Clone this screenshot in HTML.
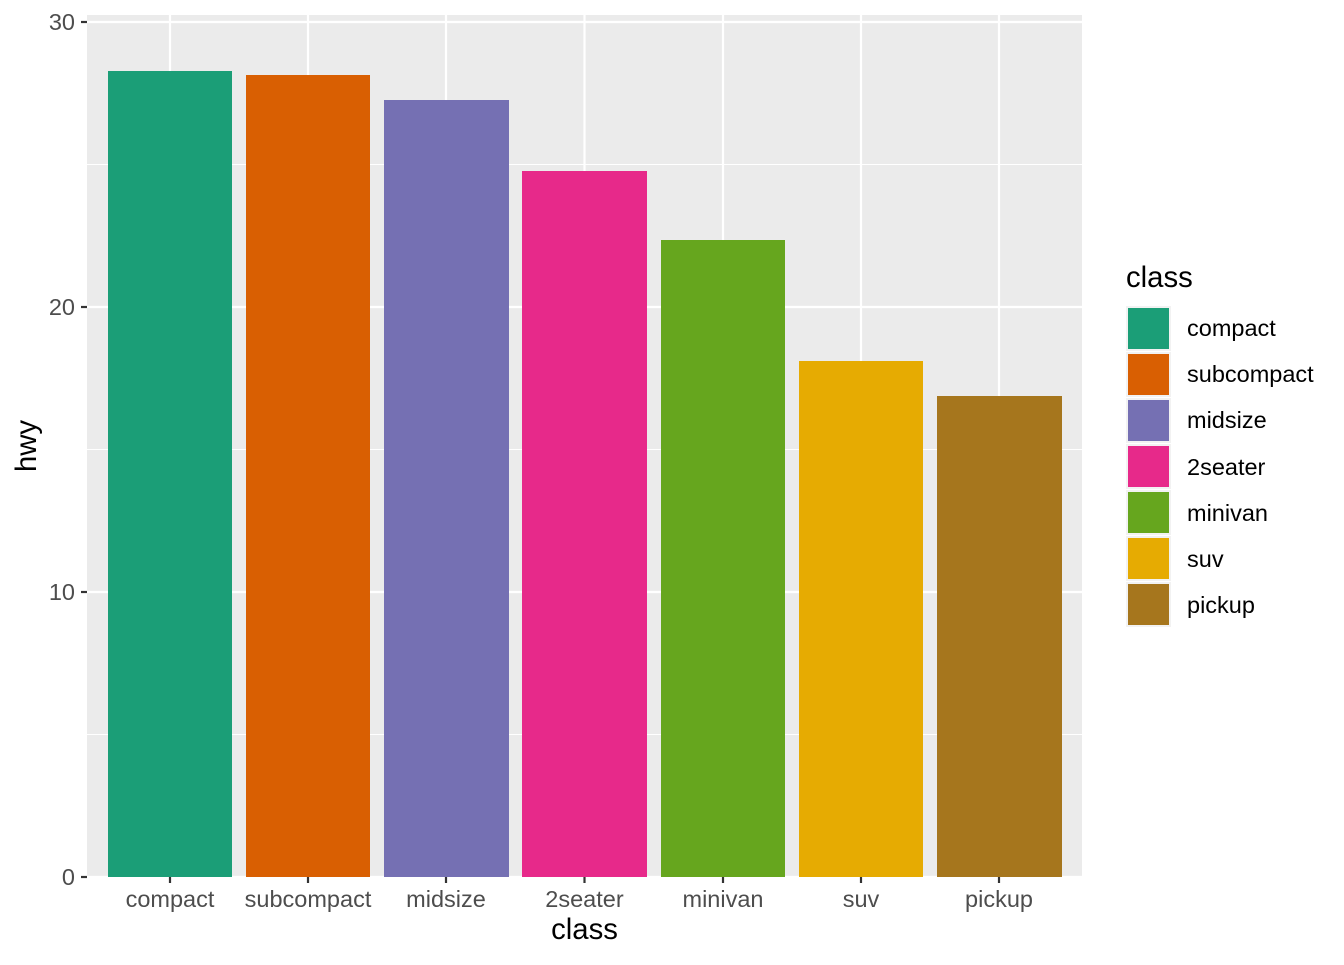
<!DOCTYPE html>
<html><head><style>body{margin:0;background:#fff}</style></head><body>
<svg width="1344" height="960" xmlns="http://www.w3.org/2000/svg" font-family="Liberation Sans, sans-serif">
<rect x="87" y="15" width="995" height="862" fill="#EBEBEB"/>
<g stroke="#fff" stroke-width="1.1">
<line x1="87" x2="1082" y1="734.5" y2="734.5"/><line x1="87" x2="1082" y1="449.5" y2="449.5"/><line x1="87" x2="1082" y1="164.5" y2="164.5"/>
</g>
<g stroke="#fff" stroke-width="2.2">
<line x1="87" x2="1082" y1="877" y2="877"/><line x1="87" x2="1082" y1="592" y2="592"/><line x1="87" x2="1082" y1="307" y2="307"/><line x1="87" x2="1082" y1="22" y2="22"/>
<line x1="170" x2="170" y1="15" y2="877"/><line x1="308" x2="308" y1="15" y2="877"/><line x1="446" x2="446" y1="15" y2="877"/><line x1="584.5" x2="584.5" y1="15" y2="877"/><line x1="723" x2="723" y1="15" y2="877"/><line x1="861" x2="861" y1="15" y2="877"/><line x1="999" x2="999" y1="15" y2="877"/>
</g>
<rect x="108" y="71" width="124" height="806" fill="#1B9E77"/>
<rect x="246" y="75" width="124" height="802" fill="#D95F02"/>
<rect x="384" y="100" width="125" height="777" fill="#7570B3"/>
<rect x="522" y="171" width="125" height="706" fill="#E7298A"/>
<rect x="661" y="240" width="124" height="637" fill="#66A61E"/>
<rect x="799" y="361" width="124" height="516" fill="#E6AB02"/>
<rect x="937" y="396" width="125" height="481" fill="#A6761D"/>
<g stroke="#333" stroke-width="2.2">
<line x1="81" x2="87" y1="877" y2="877"/><line x1="81" x2="87" y1="592" y2="592"/><line x1="81" x2="87" y1="307" y2="307"/><line x1="81" x2="87" y1="22" y2="22"/>
<line x1="170" x2="170" y1="877" y2="883"/><line x1="308" x2="308" y1="877" y2="883"/><line x1="446" x2="446" y1="877" y2="883"/><line x1="584.5" x2="584.5" y1="877" y2="883"/><line x1="723" x2="723" y1="877" y2="883"/><line x1="861" x2="861" y1="877" y2="883"/><line x1="999" x2="999" y1="877" y2="883"/>
</g>
<g fill="#4D4D4D" font-size="23.5" text-anchor="end">
<text x="75" y="885">0</text><text x="75" y="600">10</text><text x="75" y="315">20</text><text x="75" y="30">30</text>
</g>
<g fill="#4D4D4D" font-size="23.5" text-anchor="middle">
<text x="170" y="907">compact</text><text x="308" y="907">subcompact</text><text x="446" y="907">midsize</text><text x="584.5" y="907">2seater</text><text x="723" y="907">minivan</text><text x="861" y="907">suv</text><text x="999" y="907">pickup</text>
</g>
<text x="584.5" y="939" font-size="29.3" text-anchor="middle">class</text>
<text transform="translate(36,446) rotate(-90)" font-size="29.3" text-anchor="middle">hwy</text>
<text x="1126" y="287" font-size="29.3">class</text>
<g>
<rect x="1126" y="306" width="45" height="45" fill="#F2F2F2"/><rect x="1128" y="308" width="41" height="41" fill="#1B9E77"/>
<rect x="1126" y="352" width="45" height="45" fill="#F2F2F2"/><rect x="1128" y="354" width="41" height="41" fill="#D95F02"/>
<rect x="1126" y="398" width="45" height="45" fill="#F2F2F2"/><rect x="1128" y="400" width="41" height="41" fill="#7570B3"/>
<rect x="1126" y="444" width="45" height="45" fill="#F2F2F2"/><rect x="1128" y="446" width="41" height="41" fill="#E7298A"/>
<rect x="1126" y="490" width="45" height="45" fill="#F2F2F2"/><rect x="1128" y="492" width="41" height="41" fill="#66A61E"/>
<rect x="1126" y="536" width="45" height="45" fill="#F2F2F2"/><rect x="1128" y="538" width="41" height="41" fill="#E6AB02"/>
<rect x="1126" y="582" width="45" height="45" fill="#F2F2F2"/><rect x="1128" y="584" width="41" height="41" fill="#A6761D"/>
</g>
<g font-size="23.5">
<text x="1187" y="336">compact</text><text x="1187" y="382">subcompact</text><text x="1187" y="428">midsize</text><text x="1187" y="475">2seater</text><text x="1187" y="521">minivan</text><text x="1187" y="567">suv</text><text x="1187" y="613">pickup</text>
</g>
</svg>
</body></html>
